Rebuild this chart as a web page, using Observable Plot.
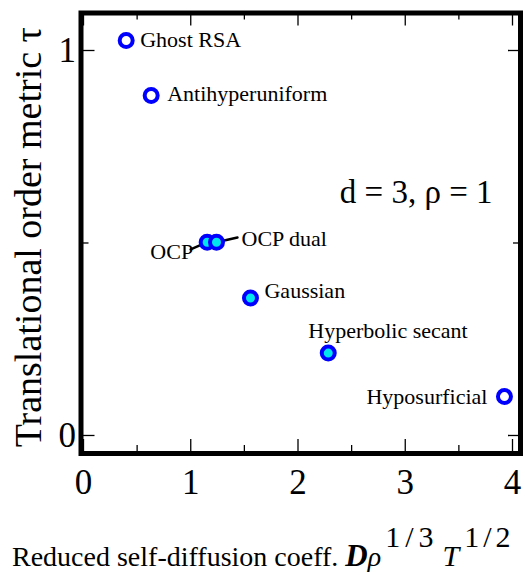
<!DOCTYPE html>
<html>
<head>
<meta charset="utf-8">
<script src="https://cdn.jsdelivr.net/npm/d3@7"></script>
<script src="https://cdn.jsdelivr.net/npm/@observablehq/plot@0.6"></script>
<style>
  html, body { margin: 0; padding: 0; background: white; }
  #chart { width: 525px; height: 575px; }
</style>
</head>
<body>
<div id="chart"></div>
<script>
// ---- data ----
const names = ["Ghost RSA", "Antihyperuniform", "OCP", "OCP dual", "Gaussian", "Hyperbolic secant", "Hyposurficial"];
const diffusion = [0.398, 0.631, 1.153, 1.240, 1.557, 2.282, 3.925];
const tau = [1.026, 0.883, 0.502, 0.502, 0.357, 0.214, 0.101];
const filled = [false, false, true, true, true, true, false];

const xMajorTicks = [0, 1, 2, 3, 4];
const xMinorTicks = [0.5, 1.5, 2.5, 3.5];
const yMajorTicks = [0, 1];
const yMinorTicks = [0.5];

const yLabelParts = ["Translational order metric ", "τ"];
const paramParts = [["d", true], [" = 3, ", false], ["ρ", true], [" = 1", false]];
const xLabelParts = ["Reduced self-diffusion coeff. ", "D", "ρ", "1/3", "T", "1/2"];

const points = names.map((name, i) => ({name, x: diffusion[i], y: tau[i], filled: filled[i]}));

// ---- layout / style ----
const font = "'Liberation Serif', 'Times New Roman', serif";
const blue = "#0000ff";
const cyan = "#00e5ee";
const W = 525, H = 575;
const mL = 80.5, mR = 5, mT = 12.5, mB = 122;
const plotW = W - mL - mR, plotH = H - mT - mB;

const labelPlacement = {
  "Ghost RSA": {dx: 14, dy: -1, anchor: "start"},
  "Antihyperuniform": {dx: 16, dy: -1.5, anchor: "start"},
  "OCP": {dx: -14, dy: 10, anchor: "end"},
  "OCP dual": {dx: 25, dy: -3, anchor: "start"},
  "Gaussian": {dx: 14, dy: -7, anchor: "start"},
  "Hyperbolic secant": {dx: -20, dy: -22, anchor: "start"},
  "Hyposurficial": {dx: -17, dy: 0, anchor: "end"}
};
const leaders = {
  "OCP": {length: 18, rotate: 246.4},
  "OCP dual": {length: 21.5, rotate: 77.4}
};
const lineShape = {draw(context, l) { context.moveTo(0, 0); context.lineTo(0, -l); }};

const marks = [];
// inward ticks
marks.push(Plot.tickX(xMajorTicks, {x: d => d, insetTop: plotH - 14, strokeWidth: 1.3}));
marks.push(Plot.tickX(xMinorTicks, {x: d => d, insetTop: plotH - 8, strokeWidth: 1.3}));
marks.push(Plot.tickX(xMajorTicks, {x: d => d, insetBottom: plotH - 13, strokeWidth: 1.3}));
marks.push(Plot.tickX(xMinorTicks, {x: d => d, insetBottom: plotH - 7, strokeWidth: 1.3}));
marks.push(Plot.tickY(yMajorTicks, {y: d => d, insetRight: plotW - 14, strokeWidth: 1.3}));
marks.push(Plot.tickY(yMinorTicks, {y: d => d, insetRight: plotW - 8, strokeWidth: 1.3}));
marks.push(Plot.tickY(yMajorTicks, {y: d => d, insetLeft: plotW - 12, strokeWidth: 1.3}));
marks.push(Plot.tickY(yMinorTicks, {y: d => d, insetLeft: plotW - 7, strokeWidth: 1.3}));

// axes labels (tick text only)
marks.push(Plot.axisX({ticks: xMajorTicks, tickSize: 0, tickPadding: 16, fontSize: 35, label: null, tickFormat: d3.format("d"), fontFamily: font}));
marks.push(Plot.axisY({ticks: yMajorTicks, tickSize: 0, tickPadding: 5, fontSize: 35, label: null, tickFormat: d3.format("d"), fontFamily: font}));

// leader lines
for (const [name, l] of Object.entries(leaders)) {
  marks.push(Plot.vector(points.filter(p => p.name === name), {
    x: "x", y: "y", length: l.length, rotate: l.rotate, anchor: "start",
    shape: lineShape, stroke: "black", strokeWidth: 2.5
  }));
}

// dots
marks.push(Plot.dot(points, {
  x: "x", y: "y", r: 6.5, stroke: blue, strokeWidth: 4,
  fill: d => d.filled ? cyan : "white"
}));

// point labels
for (const p of points) {
  const s = labelPlacement[p.name];
  marks.push(Plot.text([p], {
    x: "x", y: "y", text: "name", dx: s.dx, dy: s.dy, textAnchor: s.anchor,
    fontSize: 22, fill: "black", fontFamily: font
  }));
}

// parameter annotation
marks.push(Plot.text([paramParts.map(d => d[0]).join("")], {
  frameAnchor: "right", textAnchor: "end", dx: -28, dy: -41, fontSize: 33,
  fontFamily: font, ariaLabel: "parameters"
}));

// y label
marks.push(Plot.text([yLabelParts.join("")], {
  frameAnchor: "left", textAnchor: "middle", rotate: -90, dx: -52.5, dy: 4, fontSize: 38,
  fontFamily: font, ariaLabel: "ylabel"
}));

marks.push(Plot.frame({stroke: "black", strokeWidth: 5}));

const svg = Plot.plot({
  width: W, height: H,
  marginLeft: mL, marginRight: mR, marginTop: mT, marginBottom: mB,
  x: {domain: [-0.0233, 4.0746]},
  y: {domain: [-0.0468, 1.0974]},
  color: {type: "identity"},
  style: {fontFamily: font, background: "white", color: "black"},
  marks
});

// mixed-style text
const param = d3.select(svg).select('g[aria-label="parameters"] text');
param.text(null).attr("word-spacing", 9);
for (const [t, it] of paramParts) {
  const ts = param.append("tspan").text(t);
  if (it) ts.attr("font-style", "italic");
}

const yl = d3.select(svg).select('g[aria-label="ylabel"] text');
yl.text(null);
yl.append("tspan").text(yLabelParts[0]);
yl.append("tspan").attr("font-weight", "bold").attr("font-size", 40).text(yLabelParts[1]);

const xl = d3.select(svg).append("text")
  .attr("x", 12).attr("y", 566).attr("text-anchor", "start")
  .attr("font-family", font).attr("font-size", 28).attr("fill", "black");
xl.append("tspan").text(xLabelParts[0]);
xl.append("tspan").attr("font-style", "italic").attr("font-weight", "bold").attr("font-size", 31).text(xLabelParts[1]);
xl.append("tspan").attr("font-style", "italic").text(xLabelParts[2]);
xl.append("tspan").attr("dy", -19).attr("dx", 4).attr("font-size", 30).attr("letter-spacing", 5).text(xLabelParts[3]);
xl.append("tspan").attr("dy", 19).attr("dx", 4).attr("font-style", "italic").attr("font-size", 30).text(xLabelParts[4]);
xl.append("tspan").attr("dy", -19).attr("dx", 5).attr("font-size", 30).attr("letter-spacing", 4).text(xLabelParts[5]);

document.getElementById("chart").appendChild(svg);
</script>
</body>
</html>
